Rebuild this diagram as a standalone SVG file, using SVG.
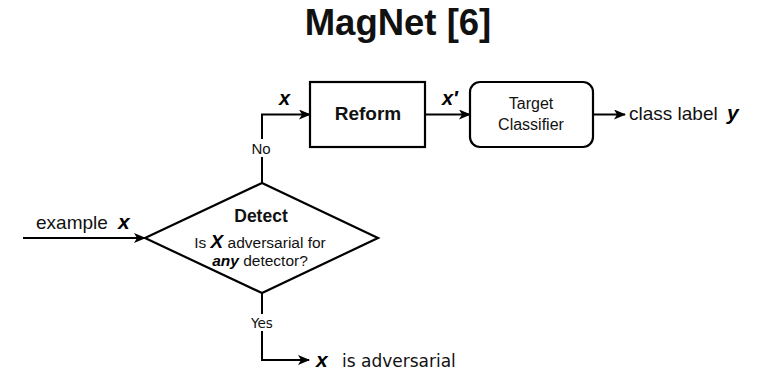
<svg xmlns="http://www.w3.org/2000/svg" width="768" height="376" viewBox="0 0 768 376">
  <style>
    .shape { fill: #ffffff; stroke: #000000; stroke-width: 2.2; }
    .wire { fill: none; stroke: #000000; stroke-width: 2; }
    .t { font-family: "Liberation Sans", Arial, sans-serif; fill: #111111; }
    .v { font-family: "DejaVu Sans", Verdana, sans-serif; fill: #111111; }
    .b { font-weight: bold; }
    .var { font-family: "Liberation Sans", Arial, sans-serif; font-weight: bold; font-style: italic; fill: #000000; }
  </style>
  <defs>
    <marker id="arrow" viewBox="0 0 12 10" refX="11" refY="5" markerWidth="12" markerHeight="10" markerUnits="userSpaceOnUse" orient="auto">
      <path d="M0,0 L12,5 L0,10 L3,5 z" fill="#000000"/>
    </marker>
  </defs>

  <rect width="768" height="376" fill="#ffffff"/>

  <text class="t b" x="398" y="35" font-size="36.5" text-anchor="middle" fill="#000">MagNet [6]</text>

  <!-- connectors -->
  <g id="connectors">
    <path class="wire" d="M23,238 L145,238" marker-end="url(#arrow)"/>
    <path class="wire" d="M262,183 L262,114.5 L310,114.5" marker-end="url(#arrow)"/>
    <path class="wire" d="M425,114.5 L470,114.5" marker-end="url(#arrow)"/>
    <path class="wire" d="M593,114.5 L625,114.5" marker-end="url(#arrow)"/>
    <path class="wire" d="M262,293 L262,360 L309,360" marker-end="url(#arrow)"/>

    <!-- branch labels -->
    <rect x="249" y="139" width="26" height="18" fill="#ffffff"/>
    <text class="t" x="261" y="154" font-size="15" text-anchor="middle">No</text>
    <rect x="247" y="314" width="30" height="17" fill="#ffffff"/>
    <text class="v" x="262" y="328" font-size="13.5" text-anchor="middle">Yes</text>

    <!-- edge labels -->
    <text class="var" x="279" y="105" font-size="20">x</text>
    <text class="var" x="442" y="105" font-size="20">x′</text>
    <text class="t" x="36" y="229" font-size="19">example</text>
    <text class="var" x="118" y="229" font-size="21">x</text>
    <text class="t" x="629" y="120" font-size="19">class label</text>
    <text class="var" x="727" y="120" font-size="21">y</text>
    <text class="var" x="316" y="367" font-size="21">x</text>
    <text class="v" x="342" y="367" font-size="17">is adversarial</text>
  </g>

  <g id="detect">
    <polygon class="shape" points="145,238 262,183 378,238 262,293"/>
    <text class="t b" x="261" y="222" font-size="17.5" text-anchor="middle">Detect</text>
    <text class="t" x="260" y="248" font-size="15.5" text-anchor="middle">Is <tspan class="var" font-size="19">X</tspan> adversarial for</text>
    <text class="t" x="260" y="266" font-size="15.5" text-anchor="middle"><tspan class="var">any</tspan> detector?</text>
  </g>

  <g id="reform">
    <rect class="shape" x="310" y="82" width="115" height="65"/>
    <text class="t b" x="368" y="120" font-size="19" text-anchor="middle">Reform</text>
  </g>

  <g id="target-classifier">
    <rect class="shape" x="470" y="82" width="123" height="65" rx="10" ry="10"/>
    <text class="t" x="531" y="109" font-size="16" text-anchor="middle">Target</text>
    <text class="t" x="531" y="130" font-size="16" text-anchor="middle">Classifier</text>
  </g>
</svg>
